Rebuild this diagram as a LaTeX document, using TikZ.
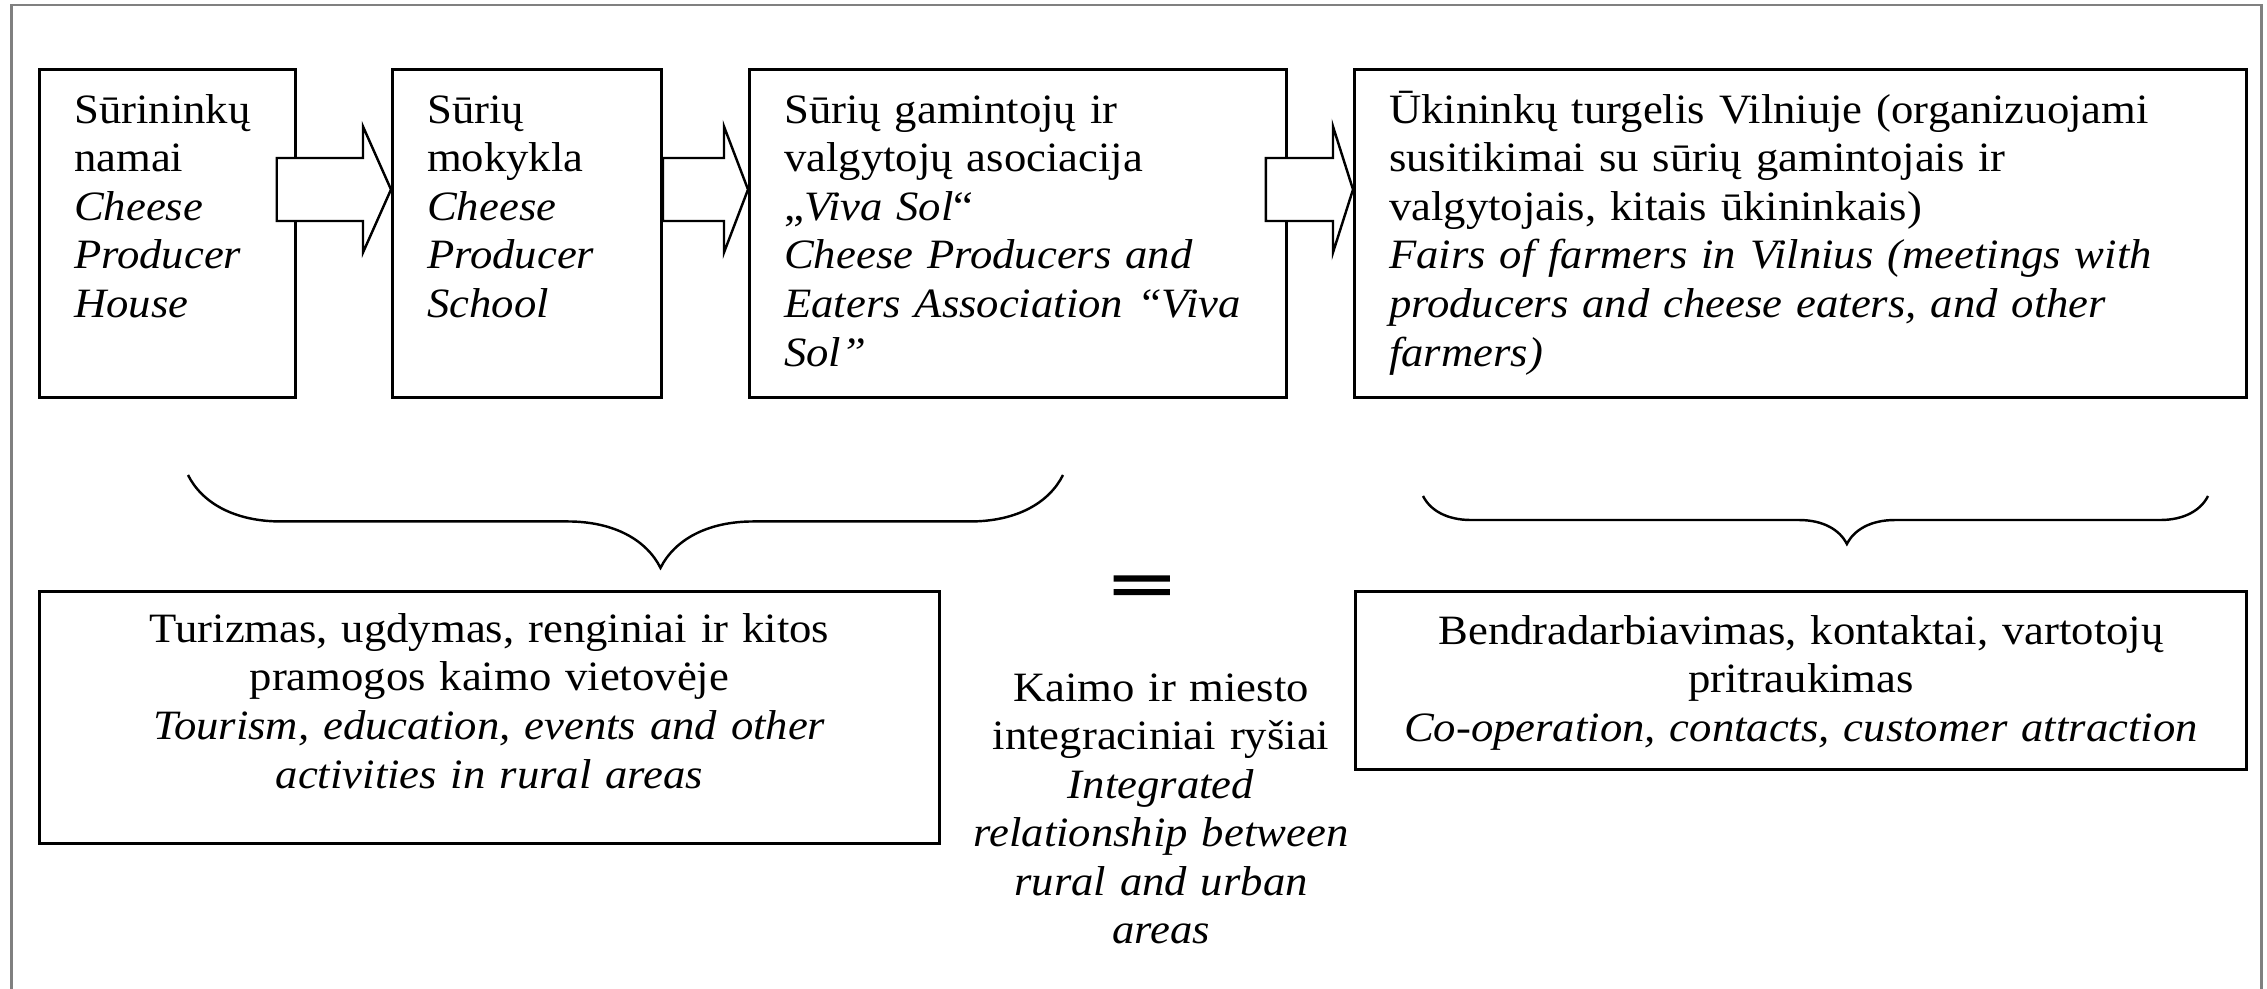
\documentclass[tikz,border=0pt]{standalone}
\usepackage{fontspec}
\setmainfont{Liberation Serif}[FakeStretch=1.07]
\usepackage{tikz}
\usetikzlibrary{calc}
\usetikzlibrary{decorations.pathreplacing}

\begin{document}
\begin{tikzpicture}[x=0.2874pt, y=-0.2874pt,
  box/.style={draw, line width=0.8pt, fill=white, inner xsep=10pt, inner ysep=0pt, align=left, anchor=north west, font=\fontsize{12}{13.95}\selectfont},
  tallbox/.style={box, text height=15.5pt, text depth=78.75pt},
  pipe/.style={draw, fill=white, line width=0.7pt, line join=miter},
  curly/.style={line width=0.7pt, decorate, decoration={brace, mirror, aspect=0.54, amplitude=#1}},
  frame/.style={draw=gray, line width=0.6pt}]

\useasboundingbox (0,0) rectangle (2267,988);
\draw[frame] (11.5,5) rectangle (2261.5,1000);

\node[tallbox, text width=53.57pt] (house) at (38,68) {Sūrininkų\\namai\\\textit{Cheese}\\\textit{Producer}\\\textit{House}};
\node[tallbox, text width=57.31pt] (school) at (391,68) {Sūrių\\mokykla\\\textit{Cheese}\\\textit{Producer}\\\textit{School}};
\node[tallbox, text width=134.33pt] (assoc) at (748,68) {Sūrių gamintojų ir\\valgytojų asociacija\\„\textit{Viva Sol}“\\\textit{Cheese Producers and}\\\textit{Eaters Association “Viva}\\\textit{Sol”}};
\node[tallbox, text width=236.36pt] (fair) at (1353,68) {Ūkininkų turgelis Vilniuje (organizuojami\\susitikimai su sūrių gamintojais ir\\valgytojais, kitais ūkininkais)\\\textit{Fairs of farmers in Vilnius (meetings with}\\\textit{producers and cheese eaters, and other}\\\textit{farmers)}};

\draw[pipe] ($(house.east |- 0,189.5)+(-20,-31.5)$) -- ($(school.west |- 0,189.5)+(-28,-31.5)$) -- ++(0,-31.5) -- (school.west |- 0,189.5) -- ++(-28,63) -- ++(0,-31.5) -- ($(house.east |- 0,189.5)+(-20,31.5)$) -- cycle;
\draw[pipe] ($(school.east |- 0,189.5)+(0,-31.5)$) -- ($(assoc.west |- 0,189.5)+(-24,-31.5)$) -- ++(0,-31.5) -- (assoc.west |- 0,189.5) -- ++(-24,63) -- ++(0,-31.5) -- ($(school.east |- 0,189.5)+(0,31.5)$) -- cycle;
\draw[pipe] ($(assoc.east |- 0,189.5)+(-22,-31.5)$) -- ($(fair.west |- 0,189.5)+(-20,-31.5)$) -- ++(0,-31.5) -- (fair.west |- 0,189.5) -- ++(-20,63) -- ++(0,-31.5) -- ($(assoc.east |- 0,189.5)+(-22,31.5)$) -- cycle;

\draw[curly=26.7pt] (188,475) -- (1063,475);
\draw[curly=13.8pt] (1423,496) -- (2208,496);

\node[box, align=center, text width=238.66pt, text height=14.66pt, text depth=57.76pt] (rural) at (38,590) {Turizmas, ugdymas, renginiai ir kitos\\pramogos kaimo vietovėje\\\textit{Tourism, education, events and other}\\\textit{activities in rural areas}};
\node[box, align=center, text width=236.07pt, text height=15.23pt, text depth=35.93pt] (contact) at (1354,590) {Bendradarbiavimas, kontaktai, vartotojų\\pritraukimas\\\textit{Co-operation, contacts, customer attraction}};

\node[font=\fontsize{26}{26}\selectfont\bfseries\addfontfeature{FakeBold=2}, inner sep=0pt] (equal) at (1142,592) {\scalebox{1.2}[0.75]{=}};
\node[align=center, text width=125pt, anchor=base, font=\fontsize{12}{13.95}\selectfont] (link) at (1161,701) {Kaimo ir miesto\\integraciniai ryšiai\\\textit{Integrated}\\\textit{relationship between}\\\textit{rural and urban}\\\textit{areas}};

\end{tikzpicture}
\end{document}
